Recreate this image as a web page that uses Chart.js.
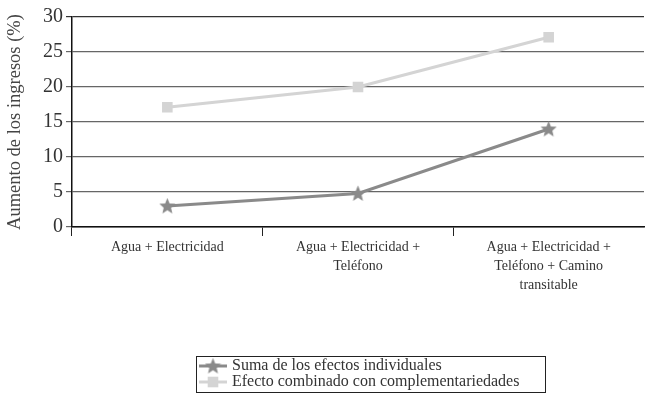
<!DOCTYPE html>
<html>
<head>
<meta charset="utf-8">
<script src="https://cdn.jsdelivr.net/npm/chart.js@4/dist/chart.umd.min.js"></script>
<style>
  html, body { margin: 0; padding: 0; background: #fff; }
  #wrap { width: 645px; height: 400px; }
</style>
</head>
<body>
<div id="wrap"><canvas id="c" width="645" height="400"></canvas></div>
<script>
// Income increase by combination of infrastructure services
const categories = [
  'Agua + Electricidad',
  ['Agua + Electricidad +', 'Teléfono'],
  ['Agua + Electricidad +', 'Teléfono + Camino', 'transitable']
];
const seriesNames = [
  'Suma de los efectos individuales',
  'Efecto combinado con complementariedades'
];
const sumaIndividuales = [3, 4.8, 14];
const efectoCombinado = [17.1, 20, 27.1];
const yTicks = [0, 5, 10, 15, 20, 25, 30];
const yTitle = 'Aumento de los ingresos (%)';

const FONT = "'Liberation Serif', 'Times New Roman', serif";
const starColor = '#8a8a8a';
const squareColor = '#d4d4d4';

// filled five-pointed star used as point marker
function makeStar(size, color) {
  const cv = document.createElement('canvas');
  cv.width = size; cv.height = size;
  const g = cv.getContext('2d');
  const cx = size / 2, cy = size / 2 + 0.5;
  const R = size / 2, r = R * 0.45;
  g.beginPath();
  for (let i = 0; i < 10; i++) {
    const a = -Math.PI / 2 + i * Math.PI / 5;
    const rad = i % 2 === 0 ? R : r;
    g.lineTo(cx + rad * Math.cos(a), cy + rad * Math.sin(a));
  }
  g.closePath();
  g.fillStyle = color;
  g.fill();
  return cv;
}
const starImg = makeStar(17, starColor);

// boxed legend drawn under the chart
const boxedLegend = {
  id: 'boxedLegend',
  afterDraw(chart, args, opts) {
    const ctx = chart.ctx;
    const x0 = opts.left, y0 = opts.top;
    const rowH = opts.rowHeight;
    ctx.save();
    ctx.font = opts.fontSize + 'px ' + FONT;
    const n = chart.data.datasets.length;
    ctx.strokeStyle = '#222';
    ctx.lineWidth = 1;
    ctx.strokeRect(x0 + 0.5, y0 + 0.5, opts.width, rowH * n + 4);
    chart.data.datasets.forEach((ds, i) => {
      const cy = y0 + 10 + i * rowH;
      ctx.strokeStyle = ds.borderColor;
      ctx.lineWidth = 3;
      ctx.beginPath();
      ctx.moveTo(x0 + 3, cy);
      ctx.lineTo(x0 + 31, cy);
      ctx.stroke();
      ctx.fillStyle = ds.borderColor;
      Chart.helpers.drawPoint(ctx, {
        pointStyle: ds.pointStyle,
        radius: ds.pointRadius,
        borderWidth: 0,
        rotation: 0
      }, x0 + 17, cy);
      ctx.fillStyle = '#333';
      ctx.textBaseline = 'middle';
      ctx.textAlign = 'left';
      ctx.fillText(ds.label, x0 + opts.textOffset, cy);
    });
    ctx.restore();
  }
};

new Chart(document.getElementById('c'), {
  type: 'line',
  data: {
    labels: categories,
    datasets: [
      {
        label: seriesNames[0],
        data: sumaIndividuales,
        borderColor: starColor,
        backgroundColor: starColor,
        borderWidth: 3,
        pointStyle: starImg,
        pointRadius: 8,
        pointHoverRadius: 8,
        tension: 0
      },
      {
        label: seriesNames[1],
        data: efectoCombinado,
        borderColor: squareColor,
        backgroundColor: squareColor,
        pointBackgroundColor: squareColor,
        pointBorderColor: squareColor,
        borderWidth: 3,
        pointStyle: 'rect',
        pointRadius: 7.5,
        pointHoverRadius: 7.5,
        pointBorderWidth: 0,
        tension: 0
      }
    ]
  },
  options: {
    responsive: false,
    animation: false,
    devicePixelRatio: 1,
    layout: { autoPadding: false, padding: { top: 17, left: 4, right: 1, bottom: 0 } },
    plugins: {
      legend: { display: false },
      tooltip: { enabled: false },
      boxedLegend: { left: 196, top: 356, width: 349, rowHeight: 16, textOffset: 36, fontSize: 16 }
    },
    scales: {
      x: {
        offset: true,
        afterFit(scale) {
          scale.height = 173;
          scale.paddingLeft = 0;
          scale.paddingRight = 0;
        },
        grid: {
          offset: true,
          drawOnChartArea: false,
          drawTicks: true,
          tickLength: 9,
          color: (c) => c.type === 'tick' ? '#222' : 'rgba(0,0,0,0)',
          lineWidth: 1
        },
        border: { display: true, color: '#111', width: 1.5 },
        ticks: {
          color: '#333',
          font: { family: FONT, size: 14, lineHeight: 1.35 },
          maxRotation: 0,
          autoSkip: false,
          padding: 2
        }
      },
      y: {
        min: 0,
        max: 30,
        afterFit(scale) { scale.width = 68; },
        afterBuildTicks(scale) { scale.ticks = yTicks.map(v => ({ value: v })); },
        grid: {
          color: (c) => c.tick && c.tick.value === 30 ? '#333' : '#666',
          lineWidth: 1.2,
          tickLength: 6,
          drawTicks: true
        },
        border: { display: true, color: '#111', width: 1.5 },
        ticks: {
          color: '#333',
          font: { family: FONT, size: 20 },
          padding: 3
        },
        title: {
          display: true,
          text: yTitle,
          color: '#444',
          font: { family: FONT, size: 18.5 },
          padding: { top: 0, bottom: 2 }
        }
      }
    }
  },
  plugins: [boxedLegend]
});
</script>
</body>
</html>
